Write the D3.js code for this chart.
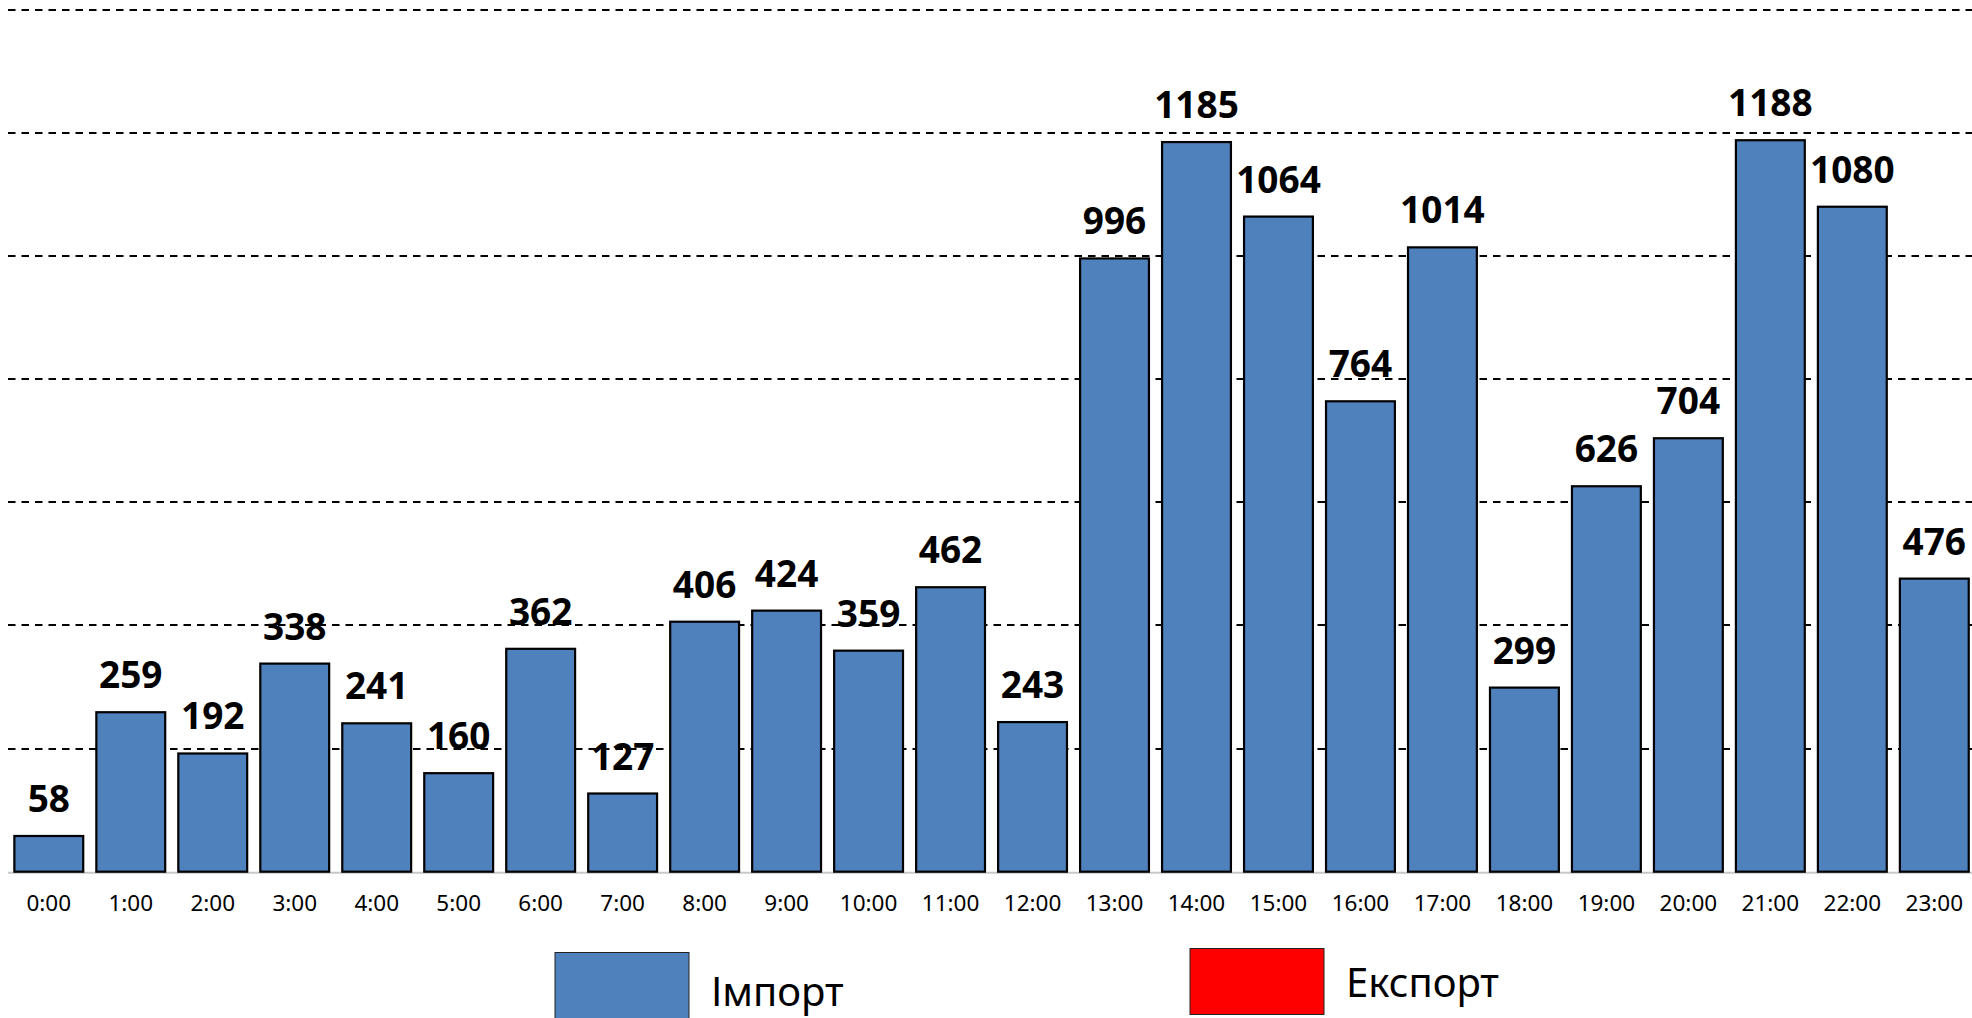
<!DOCTYPE html>
<html>
<head>
<meta charset="utf-8">
<script src="https://cdn.jsdelivr.net/npm/d3@7"></script>
<style>
  html, body { margin: 0; padding: 0; background: #fff; }
  svg { display: block; }
  text { font-family: "Noto Sans", "Open Sans", sans-serif; }
</style>
</head>
<body>
<svg id="chart"></svg>
<script>
// Hourly import values (0:00 .. 23:00)
const hours = ['0:00', '1:00', '2:00', '3:00', '4:00', '5:00', '6:00', '7:00',
    '8:00', '9:00', '10:00', '11:00', '12:00', '13:00', '14:00', '15:00',
    '16:00', '17:00', '18:00', '19:00', '20:00', '21:00', '22:00', '23:00'];
const importValues = [58, 259, 192, 338, 241, 160, 362, 127, 406, 424, 359, 462,
    243, 996, 1185, 1064, 764, 1014, 299, 626, 704, 1188, 1080, 476];
const gridTicks = [0, 200, 400, 600, 800, 1000, 1200, 1400];
const legendItems = [
    {label: 'Імпорт', color: '#4f81bd'},
    {label: 'Експорт', color: '#ff0000'}
];

const W = 1972, H = 1018;
const svg = d3.select('#chart').attr('width', W).attr('height', H);

// Scales
const x = d3.scaleBand()
    .domain(hours)
    .range([7.8, 1975.3])
    .paddingInner(0.16)
    .paddingOuter(0.08);

const y = d3.scaleLinear()
    .domain([0, 1400])
    .range([871.7, 9.7]);

// Dashed gridlines (behind bars)
svg.append('g')
    .selectAll('line')
    .data(gridTicks.filter(d => d > 0))
    .enter()
    .append('line')
    .attr('x1', 8)
    .attr('x2', W)
    .attr('y1', d => Math.round(y(d)))
    .attr('y2', d => Math.round(y(d)))
    .attr('stroke', '#000')
    .attr('stroke-width', 2)
    .attr('stroke-dasharray', '7.5,6');

// Baseline
svg.append('line')
    .attr('x1', 8)
    .attr('x2', W)
    .attr('y1', y(0) + 1)
    .attr('y2', y(0) + 1)
    .attr('stroke', '#c8c8c8')
    .attr('stroke-width', 2);

// Bars
svg.append('g')
    .selectAll('rect')
    .data(importValues)
    .enter()
    .append('rect')
    .attr('x', (d, i) => x(hours[i]))
    .attr('y', d => y(d))
    .attr('width', x.bandwidth())
    .attr('height', d => y(0) - y(d))
    .attr('fill', '#4f81bd')
    .attr('stroke', '#000')
    .attr('stroke-width', 2.2);

// Value labels
svg.append('g')
    .selectAll('text')
    .data(importValues)
    .enter()
    .append('text')
    .attr('x', (d, i) => x(hours[i]) + x.bandwidth() / 2)
    .attr('y', d => y(d) - 24)
    .attr('text-anchor', 'middle')
    .attr('font-size', '37px')
    .attr('font-weight', '700')
    .attr('fill', '#000')
    .text(d => d);

// Category axis labels
svg.append('g')
    .selectAll('text')
    .data(hours)
    .enter()
    .append('text')
    .attr('x', d => x(d) + x.bandwidth() / 2)
    .attr('y', 911)
    .attr('text-anchor', 'middle')
    .attr('font-size', '22.5px')
    .attr('fill', '#000')
    .text(d => d);

// Legend
const legendPos = [{x: 555, y: 952.5, tx: 711, ty: 1006}, {x: 1190, y: 948.5, tx: 1346, ty: 996.5}];
const legend = svg.append('g')
    .selectAll('g')
    .data(legendItems)
    .enter()
    .append('g');

legend.append('rect')
    .attr('x', (d, i) => legendPos[i].x)
    .attr('y', (d, i) => legendPos[i].y)
    .attr('width', 134)
    .attr('height', 66)
    .attr('fill', d => d.color)
    .attr('stroke', '#222')
    .attr('stroke-width', 1);

legend.append('text')
    .attr('x', (d, i) => legendPos[i].tx)
    .attr('y', (d, i) => legendPos[i].ty)
    .attr('font-size', '40px')
    .attr('fill', '#000')
    .text(d => d.label);
</script>
</body>
</html>
